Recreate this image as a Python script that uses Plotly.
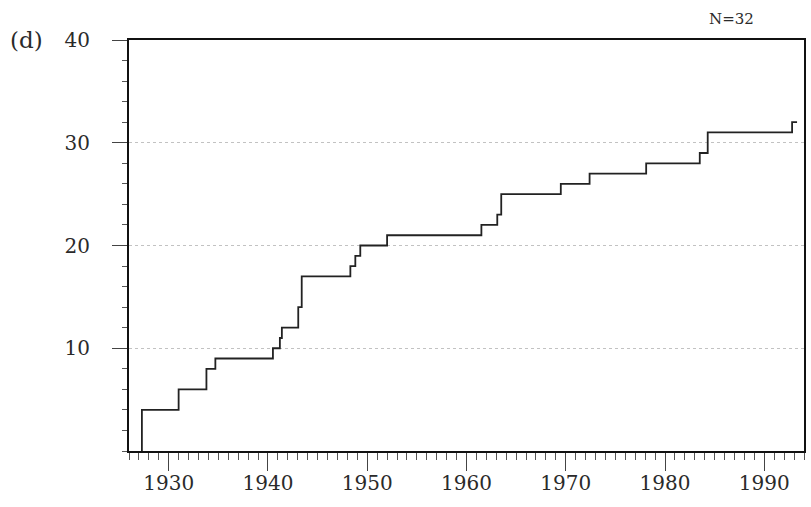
import plotly.graph_objects as go

# Cumulative number of events: year of each step and the running total after it
step_years = [1927.3, 1927.3, 1931.0, 1933.8, 1934.7, 1940.5, 1941.2, 1941.4,
              1943.05, 1943.4, 1948.3, 1948.8, 1949.3, 1952.0, 1961.5, 1963.1,
              1963.5, 1969.5, 1972.4, 1978.1, 1983.5, 1984.3, 1992.8, 1993.3]
step_counts = [0, 4, 6, 8, 9, 10, 11, 12,
               14, 17, 18, 19, 20, 21, 22, 23,
               25, 26, 27, 28, 29, 31, 32, 32]

x_ticks = [1930, 1940, 1950, 1960, 1970, 1980, 1990]
y_ticks = [10, 20, 30, 40]
total_label = "N=32"
panel_label = "(d)"

label_font = dict(family="DejaVu Serif", size=20, color="#2a2a2a")

fig = go.Figure()
fig.add_trace(go.Scatter(
    x=step_years, y=step_counts, mode="lines",
    line=dict(shape="hv", color="#222222", width=1.8),
    showlegend=False, hoverinfo="skip",
))

fig.update_xaxes(
    range=[1926, 1994], tickvals=x_ticks, ticktext=[str(v) for v in x_ticks],
    ticks="outside", ticklen=18, tickwidth=1, tickcolor="#444",
    minor=dict(dtick=1, tick0=1926, ticks="outside", ticklen=7,
               tickwidth=1, tickcolor="#555", showgrid=False),
    showgrid=False, zeroline=False,
    showline=True, linecolor="#111", linewidth=2, mirror=True,
    tickfont=label_font, ticklabelstandoff=-5,
)
fig.update_yaxes(
    range=[0, 40], tickvals=y_ticks, ticktext=[str(v) for v in y_ticks],
    ticks="outside", ticklen=15, tickwidth=1, tickcolor="#444",
    minor=dict(dtick=2, tick0=0, ticks="outside", ticklen=5,
               tickwidth=1, tickcolor="#555", showgrid=False),
    showgrid=True, gridcolor="#c2c2c2", gridwidth=1, griddash="dot",
    zeroline=False,
    showline=True, linecolor="#111", linewidth=2, mirror=True,
    tickfont=label_font, ticklabelstandoff=18,
)

fig.add_annotation(
    text=panel_label, xref="paper", yref="paper", x=-0.18, y=1.0,
    xanchor="left", yanchor="middle", showarrow=False,
    font=dict(family="DejaVu Serif", size=23, color="#2a2a2a"),
)
fig.add_annotation(
    text=total_label, xref="paper", yref="paper", x=0.893, y=1.052,
    xanchor="center", yanchor="middle", showarrow=False,
    font=dict(family="DejaVu Serif", size=15, color="#2a2a2a"),
)

fig.update_layout(
    width=811, height=507,
    margin=dict(l=129, r=5, t=40, b=56),
    paper_bgcolor="white", plot_bgcolor="white",
)

fig.write_html("out.html")
